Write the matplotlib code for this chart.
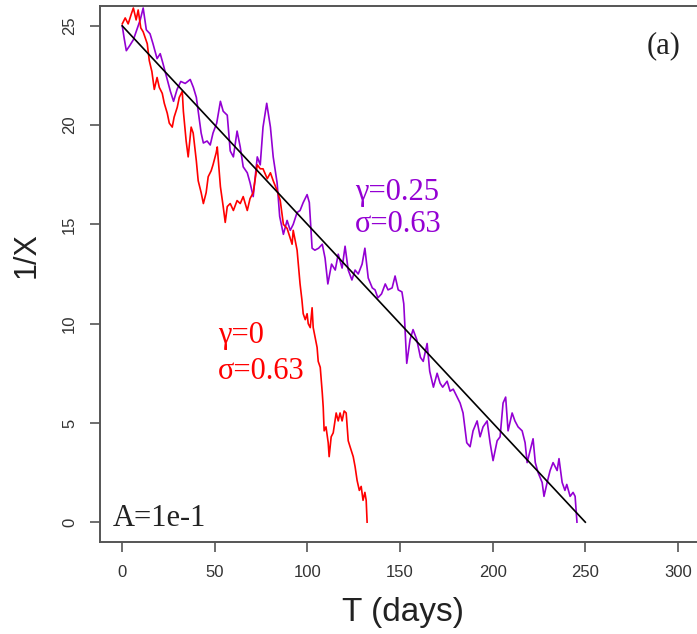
import matplotlib
matplotlib.use('Agg')
import matplotlib.pyplot as plt

# Values
purple_t = [0, 1, 2.2, 4, 6, 7.5, 9.7, 11.3, 13, 15, 16.6, 18.8, 20.5, 22, 24, 26, 27.7, 29.6,
            31.6, 34, 36.7, 38.4, 40, 41, 42.6, 43.8, 45.8, 47.5, 49, 51, 53, 54.5, 56.7, 58.3,
            60, 62, 63.7, 65.3, 67.5, 69, 70.7, 72.9, 74.5, 76, 78, 80, 81.5, 83.6, 85, 87, 89,
            90.7, 92.3, 94.4, 96, 97.7, 99.8, 101, 102.5, 104, 106, 108, 109.5, 111, 113, 115,
            116.6, 118.7, 120.3, 122, 124, 125.7, 127.4, 129.5, 131, 132.8, 135, 136.5, 138, 140,
            142, 143.5, 145.7, 147.3, 149, 151, 152, 153.6, 155.4, 157, 159, 161, 162.5, 164.6,
            166, 168, 170, 171.6, 173, 175.4, 177, 178.7, 180.8, 182.4, 184, 186, 187.8, 189.4,
            191.6, 193.2, 194.8, 197, 198.6, 200.2, 202.4, 204, 205.6, 207, 208.3, 210.5, 212,
            213.7, 215.9, 217.5, 218.6, 220.2, 221.8, 223, 224.5, 226.7, 227.7, 229.4, 231,
            232.6, 234.8, 235.8, 237.5, 239, 240, 241.8, 243.4, 244.5, 245.5]
purple_v = [25.0, 24.4, 23.75, 24.0, 24.3, 24.7, 25.3, 25.9, 24.8, 24.6, 24.1, 23.35, 23.6, 23.1,
            22.4, 21.7, 21.2, 21.8, 22.2, 22.1, 22.3, 21.9, 21.4, 20.7, 19.6, 19.1, 19.2, 19.0,
            19.6, 20.1, 21.2, 20.7, 20.5, 18.7, 18.4, 19.7, 18.9, 17.9, 17.6, 17.1, 16.4, 18.4,
            18.0, 19.9, 21.1, 19.9, 18.4, 17.1, 15.4, 14.5, 15.2, 14.7, 15.0, 15.6, 15.7, 16.1,
            16.5, 16.1, 13.8, 13.7, 13.8, 14.0, 13.3, 12.0, 13.0, 12.7, 13.5, 12.8, 13.9, 12.7,
            12.2, 12.7, 12.5, 13.0, 13.8, 12.3, 11.8, 11.7, 11.3, 11.5, 12.0, 11.7, 11.8, 12.4,
            11.7, 11.6, 11.0, 8.0, 9.2, 9.7, 9.2, 8.3, 8.1, 9.0, 7.6, 6.8, 7.5, 7.0, 6.8, 7.1,
            6.6, 6.7, 6.3, 6.0, 5.5, 4.0, 3.8, 4.6, 5.1, 4.3, 4.8, 5.1, 4.0, 3.1, 4.1, 4.3, 6.0,
            6.3, 4.6, 5.5, 5.1, 4.8, 4.6, 4.0, 3.0, 3.6, 4.2, 3.0, 2.5, 2.0, 1.3, 2.0, 2.6, 3.0,
            2.6, 3.2, 2.0, 1.6, 1.9, 1.3, 1.5, 1.3, 0.0]

red_t = [0, 1.6, 3.2, 4.9, 6, 7.5, 8.6, 10, 11.3, 13.5, 14.6, 16, 17.3, 18.8, 20, 21.6, 22.7,
         24.3, 25.4, 27, 28, 29.7, 30.8, 32.4, 33, 34.5, 35.6, 37.2, 38.3, 40, 41, 42.6, 43.8,
         45.3, 46.4, 48, 49, 50.7, 51.3, 53, 54.5, 55.6, 56.7, 58.3, 60, 62, 63.7, 65.3, 67.5,
         69, 70.7, 72.9, 74.5, 76, 78.3, 80, 81.5, 83.6, 85.3, 87, 89, 90.7, 91.7, 92.3, 94.4,
         96, 97, 97.7, 98.8, 99.8, 100.4, 101.5, 102.5, 103.1, 105.2, 105.8, 106.9, 108, 108.5,
         109, 110, 111.2, 111.7, 112.8, 113.9, 115.5, 116.6, 117.6, 118.7, 119.8, 120.9, 122,
         123, 124.7, 125.7, 126.8, 128, 129, 130, 131, 131.7, 132.2]
red_v = [25.1, 25.4, 25.1, 25.6, 25.9, 25.3, 25.8, 24.9, 24.7, 24.1, 23.25, 22.7, 21.8, 22.4,
         21.9, 21.6, 21.1, 20.6, 20.1, 19.9, 20.4, 20.9, 21.4, 21.7, 20.7, 19.2, 18.4, 19.9,
         19.6, 18.2, 17.2, 16.6, 16.05, 16.6, 17.4, 17.7, 18.0, 18.6, 18.9, 16.9, 15.9, 15.1,
         15.9, 16.05, 15.7, 16.2, 16.05, 16.4, 15.7, 16.3, 16.6, 18.0, 17.8, 17.8, 17.3, 17.6,
         17.2, 16.7, 16.2, 15.0, 14.8, 14.3, 14.0, 14.7, 13.7, 12.0, 11.2, 10.5, 10.2, 10.5,
         10.0, 9.8, 10.8, 9.8, 8.8, 8.1, 7.8, 6.5, 5.8, 4.6, 4.8, 4.0, 3.3, 4.3, 4.5, 5.5, 5.1,
         5.5, 5.1, 5.6, 5.5, 4.1, 3.8, 3.3, 2.8, 2.1, 1.6, 1.8, 1.1, 1.5, 1.1, 0.0]

trend_t = [0, 250]
trend_v = [25, 0]

x_ticks = [0, 50, 100, 150, 200, 250, 300]
y_ticks = [0, 5, 10, 15, 20, 25]

purple = '#9400D3'
red = '#FF0000'
spine_col = '#555555'

fig = plt.figure(figsize=(6.97, 6.34), dpi=100)
ax = fig.add_axes([0.1435, 0.1451, 0.861, 0.8454])

ax.plot(purple_t, purple_v, color=purple, lw=1.2)
ax.plot(red_t, red_v, color=red, lw=1.2)
ax.plot(trend_t, trend_v, color='black', lw=1.2)

ax.set_xlim(-12, 312)
ax.set_ylim(-1, 26)
ax.set_xticks(x_ticks)
ax.set_yticks(y_ticks)

for s in ax.spines.values():
    s.set_color(spine_col)
    s.set_linewidth(1.4)

ax.tick_params(axis='both', length=7.5, width=1.2, color=spine_col,
               labelsize=12, labelcolor='#333333', pad=9)
ax.tick_params(axis='y', labelrotation=90)
for lab in ax.get_xticklabels() + ax.get_yticklabels():
    lab.set_family('Liberation Sans')
for lab in ax.get_yticklabels():
    lab.set_verticalalignment('center')

ax.set_xlabel('T (days)', fontsize=24, family='Liberation Sans', color='#222222')
ax.set_ylabel('1/X', fontsize=22, family='Liberation Sans', color='#222222')
ax.yaxis.set_label_coords(-0.098, 0.535)
ax.xaxis.set_label_coords(0.505, -0.103)

serif = 'Liberation Serif'
ax.text(292, 24.0, '(a)', fontsize=22, family=serif, color='#222222', ha='center', va='center')
ax.text(-5, 0.2, 'A=1e-1', fontsize=22, family=serif, color='#222222', ha='left', va='center')
ax.text(125.5, 16.6, 'γ=0.25', fontsize=22, family=serif, color=purple, ha='left', va='center')
ax.text(125.5, 15.0, 'σ=0.63', fontsize=22, family=serif, color=purple, ha='left', va='center')
ax.text(51.5, 9.4, 'γ=0', fontsize=22, family=serif, color=red, ha='left', va='center')
ax.text(51.5, 7.6, 'σ=0.63', fontsize=22, family=serif, color=red, ha='left', va='center')

fig.savefig('out.png', dpi=100)
